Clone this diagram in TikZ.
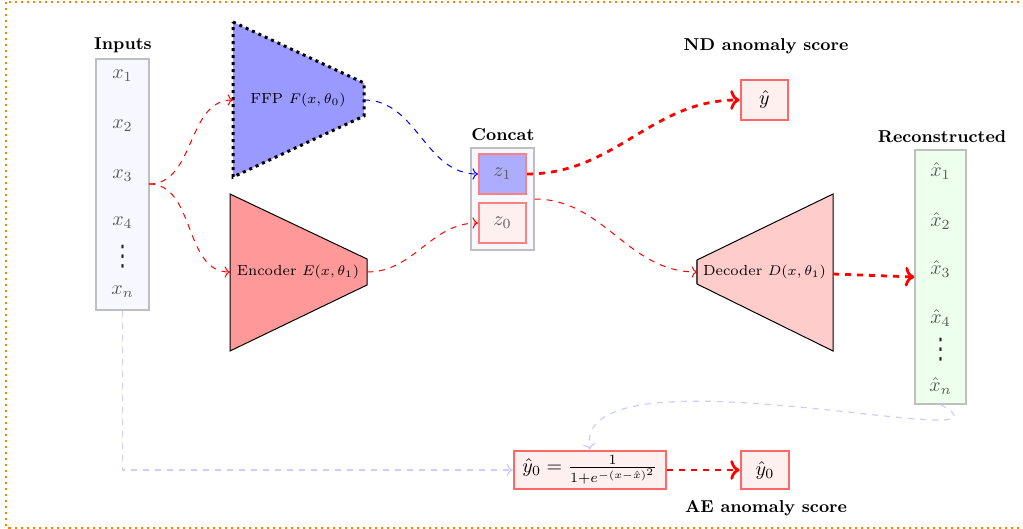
\documentclass[tikz,border=0pt]{standalone}
\usepackage{fontspec}
\newfontfamily\dejavu{DejaVu Sans}
\usetikzlibrary{arrows.meta}
\begin{document}
\begin{tikzpicture}[x=0.5pt,y=-0.5pt,
  title/.style={font=\fontsize{8.6}{10}\selectfont\bfseries},
  vecbox/.style={draw=black!25, line width=0.6pt, inner sep=0pt},
  lbl/.style={text=black!65, inner sep=1pt},
  dotsl/.style={inner sep=0pt, text=black!85, font=\dejavu\fontsize{10.5}{11}\selectfont},
  zbox/.style={draw=red!50, line width=1.1pt, minimum width=23.5pt, minimum height=20pt, inner sep=0pt},
  outbox/.style={draw=red!60, line width=1.3pt, fill=red!6, minimum height=19pt, inner sep=0pt},
  tlabel/.style={font=\fontsize{7.3}{9}\selectfont, inner sep=0pt},
  thinred/.style={red, dashed, line width=0.5pt, ->},
  thickred/.style={red, dashed, line width=1.4pt, ->},
  lav/.style={blue!20, dashed, line width=0.6pt, ->}
]
\useasboundingbox (0,0) rectangle (1023,529);
\clip (0,0) rectangle (1023,529);
\draw[orange, line width=1pt, dotted] (6,2) rectangle (1040,527.5);

% Inputs
\node[title] (tin) at (123,45) {Inputs};
\node[vecbox, fill=blue!3, minimum width=26.5pt, minimum height=125.5pt] (inputs) at (122.5,184.5) {};
\node[lbl] (x1) at (122.5,76) {$x_1$};
\node[lbl] (x2) at (122.5,126) {$x_2$};
\node[lbl] (x3) at (122.5,176) {$x_3$};
\node[lbl] (x4) at (122.5,223) {$x_4$};
\node[dotsl] (xd) at (122.5,257) {\scalebox{1}[1.35]{⋮}};
\node[lbl] (xn) at (122.5,292) {$x_n$};
\coordinate (x3out) at (149,184);

% FFP
\draw[fill=blue!40, line width=1.5pt, dotted] (233,22) -- (364,83) -- (364,116) -- (233,177) -- cycle;
\node[tlabel] (ffp) at (298,100) {FFP $F(x,\theta_0)$};
\coordinate (ffpin) at (233,100);
\coordinate (ffpout) at (364,100);

% Encoder
\draw[fill=red!40, line width=0.5pt] (230,194) -- (367,259) -- (367,285) -- (230,351) -- cycle;
\node[tlabel] (enc) at (298,272) {Encoder $E(x,\theta_1)$};
\coordinate (encin) at (230,272);
\coordinate (encout) at (367,272);

% Concat
\node[title] (tcon) at (503,135) {Concat};
\node[vecbox, fill=blue!3, minimum width=31.5pt, minimum height=51pt] (concat) at (502.5,199) {};
\node[zbox, fill=blue!32] (z1) at (502.5,174) {\textcolor{black!65}{$z_1$}};
\node[zbox, fill=red!6] (z0) at (502.5,223) {\textcolor{black!65}{$z_0$}};

% ND anomaly score
\node[title] (tnd) at (766,46) {ND anomaly score};
\node[outbox, minimum width=23.5pt, minimum height=20pt] (yhat) at (764.5,100) {$\hat{y}$};

% Decoder
\draw[fill=red!20, line width=0.5pt] (697,260) -- (833,194) -- (833,351) -- (697,284) -- cycle;
\draw[black!70, line width=1pt] (697,260) -- (697,284);
\node[tlabel] (dec) at (764.5,272) {Decoder $D(x,\theta_1)$};
\coordinate (decin) at (697,272);
\coordinate (decout) at (833,274);

% Reconstructed
\node[title] (trec) at (942,137) {Reconstructed};
\node[vecbox, fill=green!7, minimum width=25.5pt, minimum height=127pt] (recon) at (940.5,277) {};
\node[lbl] (r1) at (940.5,171) {$\hat{x}_1$};
\node[lbl] (r2) at (940.5,221) {$\hat{x}_2$};
\node[lbl] (r3) at (940.5,269) {$\hat{x}_3$};
\node[lbl] (r4) at (940.5,318) {$\hat{x}_4$};
\node[dotsl] (rd) at (940.5,350) {\scalebox{1}[1.35]{⋮}};
\node[lbl] (rn) at (940.5,386) {$\hat{x}_n$};

% AE score
\node[outbox, minimum width=76pt] (formula) at (590,470) {$\hat{y}_0=\frac{1}{1+e^{-(x-\hat{x})^2}}$};
\node[outbox, minimum width=24pt] (y0) at (765,470) {$\hat{y}_0$};
\node[title] (tae) at (766,508) {AE anomaly score};

% connectors
\draw[thinred] (x3out) to[out=0,in=180] (ffpin);
\draw[thinred] (x3out) to[out=0,in=180] (encin);
\draw[blue, dashed, line width=0.5pt, ->] (ffpout) to[out=0,in=180] (z1.west);
\draw[thinred] (encout) to[out=0,in=180] (z0.west);
\draw[thickred] (z1.east) to[out=0,in=180] (yhat.west);
\draw[thinred] (concat.east) to[out=0,in=180] (decin);
\draw[thickred] (decout) -- (recon.west);
\draw[thickred] (formula.east) -- (y0.west);
\draw[lav] (inputs.south) |- (formula.west);
\draw[lav] (recon.south) .. controls (1040,460) and (570,340) .. (formula.north);
\end{tikzpicture}
\end{document}
